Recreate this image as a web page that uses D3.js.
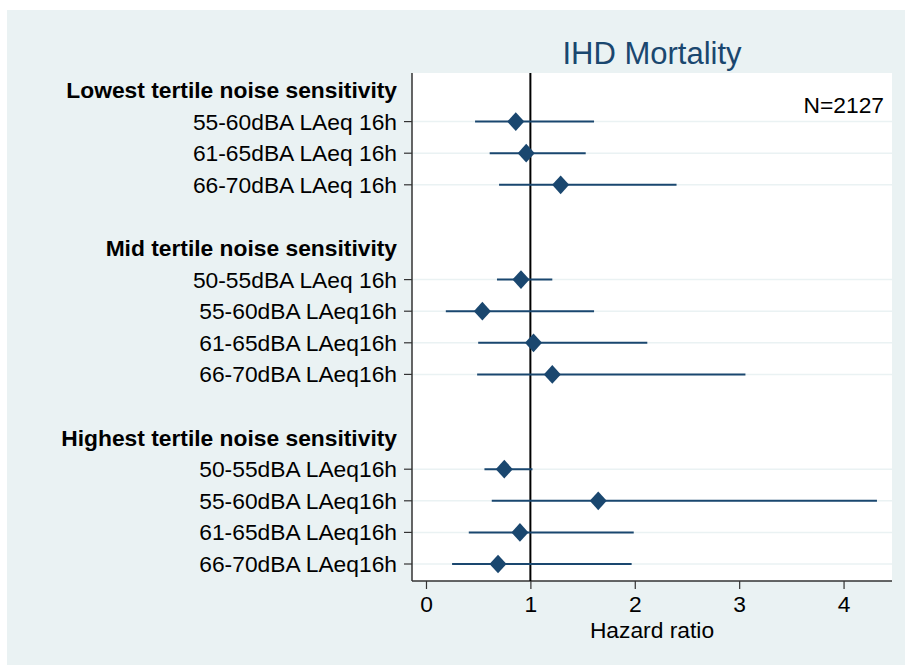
<!DOCTYPE html>
<html>
<head>
<meta charset="utf-8">
<script src="https://cdn.jsdelivr.net/npm/d3@7"></script>
<style>
  body { margin: 0; background: #fff; }
  text { font-family: "Liberation Sans", Arial, Helvetica, sans-serif; }
</style>
</head>
<body>
<div id="chart"></div>
<script>
// rows top to bottom; headers have no estimate
const labels = [
  'Lowest tertile noise sensitivity',
  '55-60dBA LAeq 16h', '61-65dBA LAeq 16h', '66-70dBA LAeq 16h',
  '',
  'Mid tertile noise sensitivity',
  '50-55dBA LAeq 16h', '55-60dBA LAeq16h', '61-65dBA LAeq16h', '66-70dBA LAeq16h',
  '',
  'Highest tertile noise sensitivity',
  '50-55dBA LAeq16h', '55-60dBA LAeq16h', '61-65dBA LAeq16h', '66-70dBA LAeq16h'
];
const isHeader = [1,0,0,0,0,1,0,0,0,0,0,1,0,0,0,0];
const hr    = [null, 0.86, 0.96, 1.29, null, null, 0.91, 0.54, 1.03, 1.21, null, null, 0.75, 1.65, 0.90, 0.69];
const ciLow = [null, 0.47, 0.61, 0.70, null, null, 0.68, 0.19, 0.50, 0.49, null, null, 0.56, 0.63, 0.41, 0.25];
const ciHigh= [null, 1.61, 1.53, 2.40, null, null, 1.21, 1.61, 2.12, 3.06, null, null, 1.02, 4.32, 1.99, 1.97];
const xTicks = [0, 1, 2, 3, 4];

const W = 905, H = 665;
const navy = '#1a476f';
const bg = '#eaf2f3';
const plot = { left: 412, right: 892, top: 73, bottom: 581 };

const svg = d3.select('#chart').append('svg')
  .attr('width', W)
  .attr('height', H);

svg.append('rect')
  .attr('x', 7).attr('y', 10)
  .attr('width', W - 7).attr('height', H - 10)
  .attr('fill', bg);

svg.append('rect')
  .attr('x', plot.left).attr('y', plot.top)
  .attr('width', plot.right - plot.left).attr('height', plot.bottom - plot.top)
  .attr('fill', '#fff');

const x = d3.scaleLinear()
  .domain([-0.134, 4.464])
  .range([plot.left, plot.right]);

const y = d3.scalePoint()
  .domain(d3.range(labels.length))
  .range([90, 564]);

const rows = labels.map((l, i) => ({ i, label: l, header: isHeader[i], hr: hr[i], lo: ciLow[i], hi: ciHigh[i] }));
const est = rows.filter(d => d.hr != null);

// horizontal grid at each estimate row
svg.append('g').selectAll('line')
  .data(est)
  .join('line')
  .attr('x1', plot.left).attr('x2', plot.right)
  .attr('y1', d => y(d.i)).attr('y2', d => y(d.i))
  .attr('stroke', bg).attr('stroke-width', 1.5);

// row labels
svg.append('g').selectAll('text')
  .data(rows.filter(d => d.label))
  .join('text')
  .attr('x', 397)
  .attr('y', d => y(d.i))
  .attr('dy', '0.35em')
  .attr('text-anchor', 'end')
  .attr('font-size', 22.8)
  .attr('font-weight', d => d.header ? 'bold' : 'normal')
  .attr('fill', '#000')
  .text(d => d.label);

// y axis line and ticks
svg.append('line')
  .attr('x1', plot.left).attr('x2', plot.left)
  .attr('y1', plot.top).attr('y2', plot.bottom)
  .attr('stroke', '#333').attr('stroke-width', 1.5);
svg.append('g').selectAll('line')
  .data(est)
  .join('line')
  .attr('x1', plot.left - 8).attr('x2', plot.left)
  .attr('y1', d => y(d.i)).attr('y2', d => y(d.i))
  .attr('stroke', '#333').attr('stroke-width', 1.2);

// x axis
const xAxis = svg.append('g')
  .attr('transform', `translate(0,${plot.bottom})`)
  .call(d3.axisBottom(x).tickValues(xTicks).tickSize(8).tickPadding(7).tickFormat(d3.format('d')));
xAxis.select('.domain').attr('stroke', '#333').attr('stroke-width', 1.5)
  .attr('d', `M${plot.left},0H${plot.right}`);
xAxis.selectAll('.tick line').attr('stroke', '#333').attr('stroke-width', 1.2);
xAxis.selectAll('.tick text')
  .attr('font-size', 22.8)
  .attr('fill', '#000')
  .attr('font-family', '"Liberation Sans", Arial, sans-serif');

// reference line at HR = 1
svg.append('line')
  .attr('x1', x(1)).attr('x2', x(1))
  .attr('y1', plot.top).attr('y2', plot.bottom)
  .attr('stroke', '#000').attr('stroke-width', 2);

// confidence intervals
svg.append('g').selectAll('line')
  .data(est)
  .join('line')
  .attr('x1', d => x(d.lo)).attr('x2', d => x(d.hi))
  .attr('y1', d => y(d.i)).attr('y2', d => y(d.i))
  .attr('stroke', navy).attr('stroke-width', 2);

// point estimates
svg.append('g').selectAll('path')
  .data(est)
  .join('path')
  .attr('transform', d => `translate(${x(d.hr)},${y(d.i)}) scale(1,1.1)`)
  .attr('d', d3.symbol().type(d3.symbolDiamond2).size(185))
  .attr('fill', navy);

// title
svg.append('text')
  .attr('x', (plot.left + plot.right) / 2)
  .attr('y', 64)
  .attr('text-anchor', 'middle')
  .attr('font-size', 31)
  .attr('fill', navy)
  .text('IHD Mortality');

// N annotation
svg.append('text')
  .attr('x', 884)
  .attr('y', 113)
  .attr('text-anchor', 'end')
  .attr('font-size', 22.8)
  .attr('fill', '#000')
  .text('N=2127');

// x axis title
svg.append('text')
  .attr('x', (plot.left + plot.right) / 2)
  .attr('y', 638)
  .attr('text-anchor', 'middle')
  .attr('font-size', 22.8)
  .attr('fill', '#000')
  .text('Hazard ratio');
</script>
</body>
</html>
